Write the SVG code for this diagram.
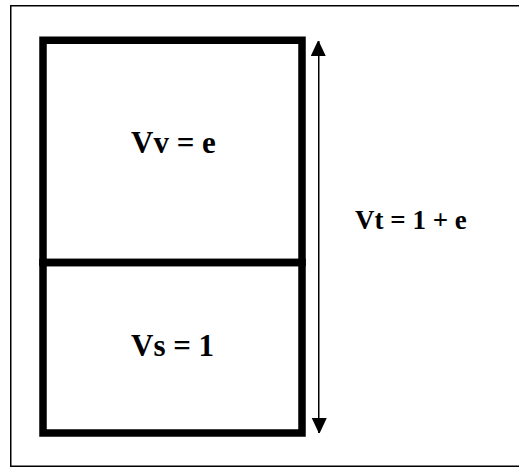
<svg xmlns="http://www.w3.org/2000/svg" width="519" height="467" viewBox="0 0 519 467">
<style>
.frame{fill:none;stroke:#000;stroke-width:1.5}
.box{fill:none;stroke:#000;stroke-width:7.5}
.lbl{font-family:"Liberation Serif","Times New Roman",serif;font-weight:bold;fill:#000}
.conn{stroke:#000;stroke-width:1.5;fill:none}
</style>
<defs>
<marker id="ah" markerWidth="15" markerHeight="16" refX="15" refY="8" orient="auto" markerUnits="userSpaceOnUse">
<path d="M0,0 L16,7.5 L0,15 Z" fill="#000"/>
</marker>
</defs>
<rect x="0" y="0" width="519" height="467" fill="#fff"/>
<path class="frame" d="M521,5.75 H10.75 V466.25 H521"/>
<g id="void">
<rect class="box" x="43" y="40.25" width="259" height="222.25"/>
<text class="lbl" x="131" y="153" font-size="31">Vv = e</text>
</g>
<g id="solid">
<rect class="box" x="43" y="262.5" width="259" height="170.5"/>
<text class="lbl" x="131" y="356" font-size="31">Vs = 1</text>
</g>
<g id="connectors">
<line class="conn" x1="318.75" y1="245" x2="318.75" y2="41" marker-end="url(#ah)"/>
<line class="conn" x1="318.75" y1="245" x2="318.75" y2="433" marker-end="url(#ah)"/>
</g>
<g id="total">
<text class="lbl" x="355" y="229" font-size="27">Vt = 1 + e</text>
</g>
</svg>
